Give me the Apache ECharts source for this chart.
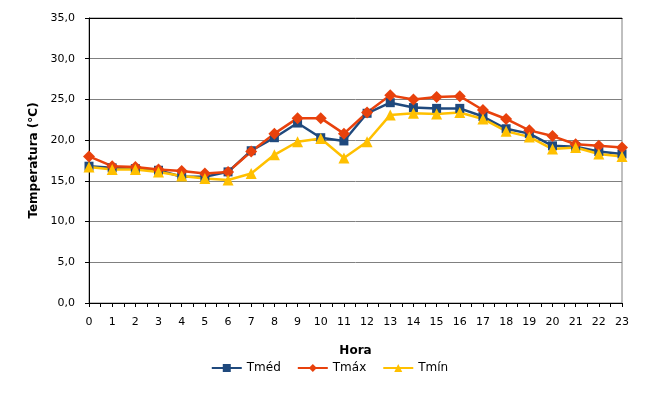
<!DOCTYPE html>
<html>
<head>
<meta charset="utf-8">
<script src="https://cdn.jsdelivr.net/npm/echarts@6/dist/echarts.min.js"></script>
<style>
  html, body { margin: 0; padding: 0; background: #fff; }
  #chart { width: 659px; height: 398px; }
</style>
</head>
<body>
<div id="chart"></div>
<script>
    //horas e temperaturas
    var horas = [0, 1, 2, 3, 4, 5, 6, 7, 8, 9, 10, 11, 12, 13, 14, 15, 16, 17, 18, 19, 20, 21, 22, 23];
    var tmed = [16.8, 16.6, 16.5, 16.3, 15.5, 15.5, 16.1, 18.7, 20.3, 22.1, 20.3, 19.9, 23.3, 24.6, 24.0, 23.9, 23.9, 22.9, 21.4, 20.8, 19.3, 19.2, 18.6, 18.3];
    var tmax = [18.0, 16.8, 16.7, 16.4, 16.2, 15.9, 16.1, 18.6, 20.8, 22.7, 22.7, 20.8, 23.4, 25.5, 25.0, 25.3, 25.4, 23.7, 22.6, 21.2, 20.5, 19.5, 19.3, 19.1];
    var tmin = [16.7, 16.4, 16.4, 16.1, 15.6, 15.3, 15.1, 15.9, 18.2, 19.8, 20.2, 17.8, 19.8, 23.1, 23.3, 23.2, 23.4, 22.6, 21.1, 20.4, 18.9, 19.1, 18.3, 18.0];
    var yTicks = [0, 5, 10, 15, 20, 25, 30, 35];

    function pares(v) {
        return horas.map(function (h, i) { return [h, v[i]]; });
    }

    var myChart = echarts.init(document.getElementById('chart'));
    var fonte = 'DejaVu Sans';

    var option = {
        animation: false,
        textStyle: {fontFamily: fonte},
        grid: {
            left: 89, right: 37, top: 18, bottom: 95,
            show: true,
            borderColor: '#808080',
            borderWidth: 1
        },
        legend: {
            bottom: 19,
            itemWidth: 30,
            itemHeight: 10,
            itemGap: 16,
            textStyle: {fontFamily: fonte, fontSize: 12, color: '#000'},
            data: ['Tméd', 'Tmáx', 'Tmín']
        },
        xAxis: [{
            type: 'value',
            min: 0,
            max: 23,
            interval: 1,
            name: 'Hora',
            nameLocation: 'middle',
            nameGap: 42,
            nameTextStyle: {fontFamily: fonte, fontSize: 12, fontWeight: 'bold', color: '#000'},
            axisLine: {lineStyle: {color: '#000', width: 1}},
            axisTick: {show: true, length: 4, lineStyle: {color: '#000'}},
            minorTick: {show: true, splitNumber: 2, length: 4, lineStyle: {color: '#000'}},
            axisLabel: {fontSize: 11, color: '#000', margin: 14},
            splitLine: {show: false}
        }, {
            type: 'value',
            position: 'top',
            min: 0,
            max: 23,
            axisLine: {show: true, lineStyle: {color: '#000', width: 1}},
            axisTick: {show: false},
            axisLabel: {show: false},
            splitLine: {show: false}
        }],
        yAxis: {
            type: 'value',
            min: 0,
            max: 35,
            interval: 5,
            name: 'Temperatura (°C)',
            nameLocation: 'middle',
            nameGap: 47,
            nameTextStyle: {fontFamily: fonte, fontSize: 12, fontWeight: 'bold', color: '#000'},
            axisLine: {show: true, lineStyle: {color: '#000', width: 1}},
            axisTick: {show: true, length: 4, lineStyle: {color: '#000'}},
            axisLabel: {
                fontSize: 11, color: '#000', margin: 14,
                formatter: function (v) { return yTicks.indexOf(v) >= 0 ? v.toFixed(1).replace('.', ',') : ''; }
            },
            splitLine: {lineStyle: {color: '#808080', width: 1}}
        },
        series: [
            {
                name: 'Tméd',
                type: 'line',
                data: pares(tmed),
                symbol: 'rect',
                symbolSize: 9,
                color: '#1F497D',
                lineStyle: {width: 2.5, color: '#1F497D'},
                itemStyle: {color: '#1F497D'}
            },
            {
                name: 'Tmáx',
                type: 'line',
                data: pares(tmax),
                symbol: 'diamond',
                symbolSize: 12,
                color: '#E8410C',
                lineStyle: {width: 2.5, color: '#E8410C'},
                itemStyle: {color: '#E8410C'}
            },
            {
                name: 'Tmín',
                type: 'line',
                data: pares(tmin),
                symbol: 'triangle',
                symbolSize: 11,
                color: '#FFC000',
                lineStyle: {width: 2.5, color: '#FFC000'},
                itemStyle: {color: '#FFC000'}
            }
        ]
    };

    myChart.setOption(option);
</script>
</body>
</html>
